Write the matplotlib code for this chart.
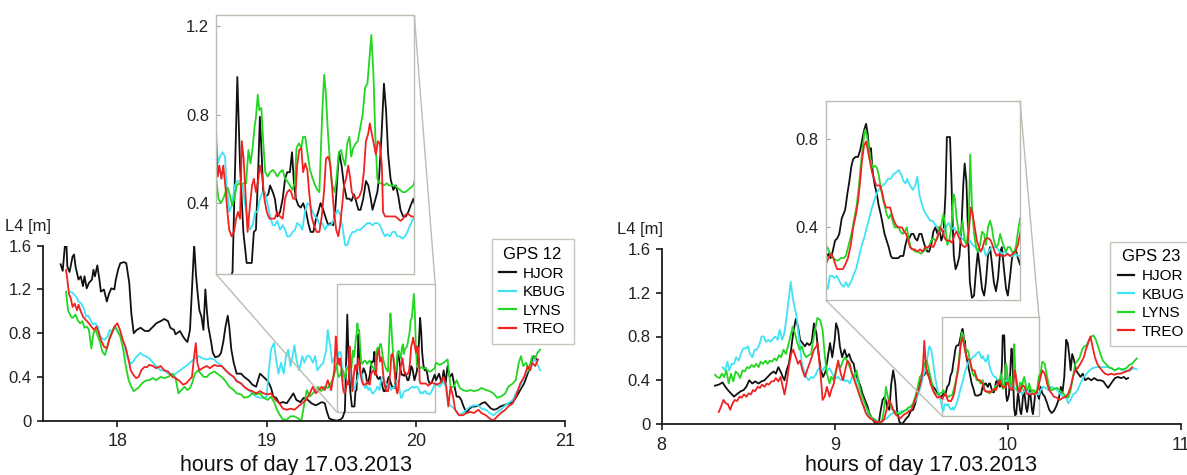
import matplotlib
matplotlib.use("Agg")
import matplotlib.pyplot as plt
from mpl_toolkits.axes_grid1.inset_locator import mark_inset

plt.rcParams['font.family'] = ['Liberation Sans', 'DejaVu Sans']

# ---------------------------------------------------------------- data
stations = ["HJOR", "KBUG", "LYNS", "TREO"]
colors = ["#111111", "#3fe3f5", "#22d622", "#f02222"]

# GPS 12, (hour, L4 [m])
hjor_12 = [
    (17.620,1.43),(17.634,1.37),(17.656,1.71),(17.665,1.41),(17.680,1.36),(17.700,1.50),(17.710,1.52),
    (17.720,1.41),(17.740,1.29),(17.755,1.32),(17.770,1.23),(17.780,1.32),(17.795,1.21),(17.810,1.26),
    (17.830,1.29),(17.840,1.38),(17.850,1.32),(17.866,1.42),(17.880,1.29),(17.890,1.18),(17.910,1.20),
    (17.930,1.09),(17.944,1.16),(17.960,1.21),(17.980,1.20),(17.990,1.29),(18.005,1.38),(18.020,1.44),
    (18.045,1.45),(18.060,1.44),(18.080,1.26),(18.094,0.98),(18.110,0.80),(18.130,0.83),(18.156,0.85),
    (18.185,0.82),(18.210,0.82),(18.240,0.86),(18.260,0.89),(18.290,0.91),(18.315,0.93),(18.340,0.91),
    (18.355,0.85),(18.380,0.83),(18.390,0.79),(18.420,0.82),(18.440,0.77),(18.456,0.74),(18.470,0.72),
    (18.487,0.83),(18.500,1.20),(18.515,1.61),(18.528,1.32),(18.540,1.14),(18.550,1.01),(18.564,0.95),
    (18.577,0.83),(18.590,1.20),(18.600,1.01),(18.610,0.86),(18.630,0.71),(18.640,0.62),(18.656,0.58),
    (18.680,0.59),(18.695,0.62),(18.710,0.72),(18.725,0.86),(18.740,0.96),(18.750,0.86),(18.764,0.65),
    (18.780,0.53),(18.800,0.43),(18.830,0.43),(18.850,0.40),(18.880,0.37),(18.905,0.33),(18.930,0.31),
    (18.956,0.43),(18.980,0.40),(19.010,0.36),(19.030,0.30),(19.046,0.22),(19.064,0.21),(19.085,0.16),
    (19.110,0.17),(19.136,0.16),(19.160,0.21),(19.180,0.25),(19.200,0.19),(19.226,0.17),(19.250,0.21),
    (19.277,0.19),(19.300,0.16),(19.330,0.14),(19.370,0.17),(19.390,0.16),(19.405,0.08),(19.420,0.02),
    (19.440,0.01),(19.470,0.00),(19.495,0.01),(19.510,0.03),(19.525,0.09),(19.541,0.97),(19.550,0.57),
    (19.561,0.27),(19.572,0.13),(19.581,0.13),(19.589,0.13),(19.596,0.27),(19.603,0.28),(19.611,0.57),
    (19.616,0.79),(19.622,0.62),(19.627,0.45),(19.636,0.43),(19.644,0.44),(19.650,0.48),(19.659,0.45),
    (19.666,0.42),(19.674,0.34),(19.683,0.36),(19.692,0.42),(19.700,0.51),(19.707,0.54),(19.716,0.54),
    (19.723,0.63),(19.730,0.48),(19.736,0.42),(19.744,0.39),(19.752,0.38),(19.760,0.40),(19.770,0.36),
    (19.777,0.31),(19.785,0.27),(19.794,0.27),(19.803,0.33),(19.810,0.36),(19.818,0.40),(19.827,0.37),
    (19.836,0.33),(19.844,0.30),(19.852,0.31),(19.860,0.30),(19.868,0.39),(19.875,0.54),(19.880,0.63),
    (19.888,0.57),(19.896,0.48),(19.905,0.42),(19.914,0.42),(19.921,0.41),(19.929,0.44),(19.936,0.41),
    (19.944,0.37),(19.951,0.37),(19.960,0.42),(19.969,0.50),(19.977,0.48),(19.985,0.42),(19.991,0.37),
    (19.999,0.41),(20.007,0.45),(20.013,0.52),(20.021,0.71),(20.029,0.94),(20.036,0.82),(20.043,0.62),
    (20.051,0.51),(20.060,0.46),(20.069,0.48),(20.077,0.43),(20.084,0.37),(20.093,0.34),(20.102,0.34),
    (20.110,0.36),(20.118,0.39),(20.127,0.42),(20.136,0.37),(20.156,0.43),(20.174,0.34),(20.187,0.46),
    (20.200,0.34),(20.213,0.50),(20.228,0.40),(20.244,0.43),(20.260,0.31),(20.274,0.22),(20.290,0.22),
    (20.305,0.19),(20.320,0.13),(20.340,0.07),(20.360,0.11),(20.380,0.13),(20.400,0.13),(20.423,0.14),
    (20.444,0.16),(20.464,0.17),(20.485,0.14),(20.505,0.11),(20.526,0.10),(20.546,0.11),(20.567,0.13),
    (20.587,0.14),(20.610,0.15),(20.630,0.16),(20.650,0.17),(20.675,0.22),(20.700,0.28),(20.726,0.34),
    (20.750,0.43),(20.780,0.56),(20.790,0.59),(20.810,0.56)]

kbug_12 = [
    (17.680,1.18),(17.700,1.17),(17.714,1.15),(17.730,1.12),(17.740,1.09),(17.760,1.07),(17.780,1.01),
    (17.790,0.95),(17.806,0.96),(17.820,0.92),(17.837,0.88),(17.850,0.89),(17.870,0.86),(17.884,0.77),
    (17.900,0.75),(17.915,0.74),(17.933,0.77),(17.950,0.83),(17.967,0.81),(17.980,0.85),(18.000,0.83),
    (18.018,0.78),(18.036,0.74),(18.054,0.65),(18.070,0.57),(18.090,0.52),(18.107,0.54),(18.120,0.57),
    (18.140,0.60),(18.156,0.62),(18.170,0.60),(18.190,0.59),(18.213,0.57),(18.240,0.53),(18.260,0.50),
    (18.290,0.46),(18.315,0.46),(18.340,0.43),(18.370,0.42),(18.390,0.43),(18.420,0.46),(18.440,0.48),
    (18.470,0.51),(18.495,0.54),(18.520,0.57),(18.546,0.59),(18.570,0.57),(18.600,0.56),(18.620,0.57),
    (18.650,0.56),(18.670,0.53),(18.700,0.50),(18.726,0.46),(18.750,0.43),(18.780,0.40),(18.800,0.37),
    (18.830,0.34),(18.850,0.31),(18.880,0.28),(18.905,0.25),(18.930,0.22),(18.956,0.21),(18.980,0.21),
    (19.000,0.22),(19.015,0.46),(19.030,0.65),(19.050,0.71),(19.064,0.56),(19.080,0.43),(19.097,0.53),
    (19.115,0.43),(19.130,0.59),(19.146,0.65),(19.160,0.50),(19.174,0.59),(19.187,0.69),(19.200,0.56),
    (19.218,0.46),(19.240,0.59),(19.254,0.53),(19.270,0.59),(19.290,0.59),(19.310,0.53),(19.326,0.59),
    (19.340,0.46),(19.360,0.50),(19.380,0.53),(19.400,0.65),(19.410,0.83),(19.430,0.65),(19.440,0.53),
    (19.460,0.59),(19.470,0.74),(19.476,0.58),(19.483,0.61),(19.492,0.63),(19.500,0.61),(19.505,0.48),
    (19.514,0.36),(19.522,0.39),(19.533,0.48),(19.541,0.50),(19.550,0.50),(19.559,0.48),(19.566,0.40),
    (19.575,0.33),(19.583,0.28),(19.592,0.30),(19.600,0.36),(19.608,0.36),(19.616,0.42),(19.625,0.45),
    (19.633,0.45),(19.641,0.40),(19.650,0.34),(19.659,0.30),(19.666,0.30),(19.674,0.32),(19.683,0.28),
    (19.692,0.30),(19.700,0.28),(19.707,0.25),(19.716,0.25),(19.725,0.27),(19.733,0.28),(19.740,0.31),
    (19.750,0.30),(19.757,0.28),(19.766,0.36),(19.774,0.40),(19.783,0.39),(19.792,0.36),(19.800,0.34),
    (19.807,0.33),(19.816,0.30),(19.824,0.31),(19.833,0.28),(19.840,0.30),(19.850,0.30),(19.857,0.31),
    (19.866,0.34),(19.874,0.37),(19.883,0.35),(19.890,0.30),(19.900,0.21),(19.907,0.21),(19.916,0.25),
    (19.924,0.27),(19.932,0.27),(19.940,0.28),(19.950,0.28),(19.958,0.29),(19.966,0.30),(19.974,0.31),
    (19.982,0.31),(19.991,0.30),(19.999,0.31),(20.007,0.31),(20.016,0.30),(20.025,0.27),(20.032,0.25),
    (20.040,0.26),(20.049,0.25),(20.057,0.27),(20.066,0.27),(20.073,0.25),(20.082,0.25),(20.090,0.24),
    (20.099,0.25),(20.107,0.27),(20.116,0.30),(20.127,0.33),(20.136,0.34),(20.160,0.31),(20.187,0.36),
    (20.200,0.31),(20.218,0.16),(20.240,0.13),(20.264,0.10),(20.290,0.05),(20.315,0.07),(20.340,0.10),
    (20.367,0.13),(20.390,0.14),(20.420,0.14),(20.440,0.11),(20.470,0.10),(20.495,0.07),(20.520,0.05),
    (20.546,0.08),(20.570,0.10),(20.600,0.14),(20.620,0.16),(20.650,0.19),(20.670,0.25),(20.700,0.31),
    (20.726,0.40),(20.750,0.46),(20.780,0.53),(20.800,0.56),(20.834,0.46)]

lyns_12 = [
    (17.656,1.18),(17.670,1.01),(17.690,0.95),(17.700,0.94),(17.720,0.97),(17.734,0.92),(17.750,0.89),
    (17.766,0.91),(17.780,0.85),(17.797,0.86),(17.810,0.83),(17.826,0.66),(17.840,0.80),(17.855,0.83),
    (17.870,0.77),(17.886,0.71),(17.900,0.63),(17.917,0.60),(17.933,0.68),(17.950,0.77),(17.970,0.83),
    (17.987,0.86),(18.004,0.81),(18.020,0.77),(18.040,0.65),(18.058,0.49),(18.076,0.37),(18.094,0.31),
    (18.110,0.27),(18.130,0.29),(18.147,0.31),(18.165,0.34),(18.183,0.36),(18.200,0.37),(18.213,0.37),
    (18.240,0.39),(18.260,0.37),(18.290,0.40),(18.315,0.39),(18.340,0.40),(18.370,0.43),(18.390,0.39),
    (18.410,0.25),(18.430,0.28),(18.450,0.31),(18.470,0.28),(18.487,0.30),(18.500,0.34),(18.520,0.43),
    (18.540,0.46),(18.560,0.43),(18.580,0.40),(18.600,0.40),(18.620,0.43),(18.650,0.45),(18.670,0.43),
    (18.700,0.40),(18.726,0.36),(18.750,0.31),(18.780,0.28),(18.800,0.25),(18.830,0.24),(18.850,0.21),
    (18.880,0.22),(18.905,0.25),(18.930,0.24),(18.956,0.25),(18.980,0.21),(19.008,0.19),(19.030,0.22),
    (19.054,0.16),(19.070,0.10),(19.090,0.05),(19.110,0.01),(19.136,0.01),(19.160,0.04),(19.187,0.04),
    (19.213,0.02),(19.233,0.00),(19.250,0.13),(19.270,0.28),(19.290,0.22),(19.310,0.25),(19.330,0.28),
    (19.346,0.31),(19.367,0.27),(19.387,0.31),(19.410,0.30),(19.430,0.34),(19.450,0.40),(19.470,0.52),
    (19.478,0.42),(19.486,0.40),(19.494,0.42),(19.502,0.45),(19.509,0.47),(19.517,0.43),(19.524,0.39),
    (19.531,0.42),(19.539,0.48),(19.547,0.49),(19.554,0.48),(19.561,0.49),(19.570,0.49),(19.578,0.64),
    (19.585,0.58),(19.592,0.65),(19.598,0.74),(19.603,0.79),(19.609,0.89),(19.614,0.82),(19.621,0.83),
    (19.627,0.68),(19.634,0.54),(19.642,0.52),(19.650,0.54),(19.659,0.55),(19.666,0.54),(19.674,0.52),
    (19.683,0.54),(19.692,0.55),(19.700,0.51),(19.707,0.50),(19.716,0.48),(19.724,0.46),(19.732,0.49),
    (19.738,0.65),(19.746,0.67),(19.754,0.65),(19.760,0.70),(19.767,0.70),(19.774,0.63),(19.783,0.55),
    (19.792,0.51),(19.800,0.48),(19.807,0.46),(19.814,0.45),(19.818,0.60),(19.824,0.82),(19.830,0.98),
    (19.835,0.91),(19.842,0.73),(19.850,0.57),(19.857,0.48),(19.865,0.45),(19.871,0.51),(19.879,0.63),
    (19.886,0.64),(19.893,0.60),(19.900,0.57),(19.907,0.67),(19.914,0.70),(19.920,0.61),(19.927,0.65),
    (19.935,0.67),(19.942,0.68),(19.950,0.74),(19.958,0.80),(19.966,0.92),(19.974,0.94),(19.980,1.04),
    (19.987,1.16),(19.994,0.98),(20.000,0.71),(20.007,0.51),(20.013,0.49),(20.021,0.49),(20.029,0.48),
    (20.038,0.49),(20.046,0.48),(20.055,0.48),(20.066,0.48),(20.073,0.47),(20.082,0.46),(20.091,0.45),
    (20.100,0.45),(20.109,0.46),(20.118,0.47),(20.127,0.48),(20.136,0.53),(20.160,0.51),(20.187,0.53),
    (20.213,0.56),(20.233,0.31),(20.254,0.31),(20.274,0.37),(20.295,0.30),(20.315,0.28),(20.340,0.27),
    (20.367,0.28),(20.390,0.27),(20.420,0.28),(20.440,0.30),(20.470,0.28),(20.495,0.27),(20.520,0.25),
    (20.546,0.21),(20.570,0.22),(20.600,0.25),(20.620,0.31),(20.650,0.34),(20.670,0.37),(20.690,0.53),
    (20.705,0.59),(20.720,0.50),(20.740,0.53),(20.756,0.46),(20.780,0.59),(20.800,0.57),(20.815,0.62),
    (20.834,0.65)]

treo_12 = [
    (17.656,1.38),(17.665,1.29),(17.676,1.16),(17.688,1.12),(17.700,1.04),(17.714,1.07),(17.730,1.01),
    (17.740,1.06),(17.755,1.00),(17.770,0.95),(17.790,0.92),(17.810,0.89),(17.826,0.86),(17.844,0.83),
    (17.860,0.86),(17.877,0.80),(17.890,0.74),(17.910,0.68),(17.930,0.66),(17.946,0.74),(17.964,0.80),
    (17.980,0.86),(18.000,0.89),(18.018,0.83),(18.036,0.74),(18.054,0.68),(18.070,0.59),(18.090,0.46),
    (18.107,0.42),(18.125,0.39),(18.143,0.40),(18.160,0.46),(18.180,0.49),(18.200,0.49),(18.213,0.51),
    (18.240,0.50),(18.260,0.48),(18.290,0.50),(18.315,0.46),(18.340,0.45),(18.370,0.40),(18.390,0.39),
    (18.420,0.36),(18.440,0.33),(18.460,0.34),(18.480,0.37),(18.500,0.40),(18.515,0.59),(18.526,0.71),
    (18.536,0.53),(18.550,0.46),(18.570,0.48),(18.600,0.50),(18.620,0.48),(18.650,0.51),(18.670,0.50),
    (18.700,0.50),(18.726,0.46),(18.750,0.43),(18.780,0.40),(18.800,0.36),(18.830,0.34),(18.850,0.31),
    (18.880,0.28),(18.905,0.27),(18.930,0.25),(18.956,0.27),(18.980,0.25),(19.008,0.24),(19.030,0.25),
    (19.060,0.19),(19.085,0.16),(19.110,0.11),(19.136,0.10),(19.160,0.11),(19.187,0.10),(19.213,0.13),
    (19.240,0.16),(19.264,0.19),(19.290,0.25),(19.310,0.31),(19.330,0.25),(19.350,0.28),(19.370,0.31),
    (19.390,0.28),(19.410,0.37),(19.433,0.28),(19.454,0.46),(19.464,0.77),(19.470,0.68),(19.476,0.52),
    (19.481,0.57),(19.488,0.51),(19.494,0.57),(19.501,0.48),(19.508,0.36),(19.514,0.28),(19.522,0.25),
    (19.530,0.27),(19.537,0.33),(19.543,0.36),(19.550,0.33),(19.556,0.68),(19.562,0.60),(19.569,0.42),
    (19.575,0.27),(19.583,0.39),(19.590,0.48),(19.596,0.51),(19.603,0.45),(19.611,0.51),(19.616,0.57),
    (19.624,0.52),(19.631,0.42),(19.639,0.36),(19.648,0.33),(19.656,0.33),(19.665,0.33),(19.674,0.36),
    (19.683,0.34),(19.692,0.33),(19.700,0.42),(19.707,0.45),(19.714,0.46),(19.720,0.45),(19.727,0.42),
    (19.734,0.42),(19.740,0.57),(19.747,0.64),(19.754,0.65),(19.760,0.54),(19.767,0.58),(19.774,0.55),
    (19.780,0.45),(19.788,0.34),(19.796,0.30),(19.805,0.27),(19.814,0.27),(19.822,0.34),(19.830,0.46),
    (19.836,0.60),(19.843,0.61),(19.850,0.58),(19.856,0.48),(19.863,0.36),(19.870,0.28),(19.877,0.25),
    (19.883,0.30),(19.890,0.39),(19.896,0.48),(19.903,0.51),(19.910,0.57),(19.916,0.52),(19.922,0.45),
    (19.929,0.43),(19.938,0.42),(19.947,0.43),(19.955,0.46),(19.962,0.54),(19.969,0.68),(19.976,0.71),
    (19.982,0.76),(19.989,0.71),(19.995,0.67),(20.002,0.62),(20.009,0.68),(20.015,0.67),(20.022,0.57),
    (20.026,0.36),(20.033,0.34),(20.040,0.34),(20.049,0.34),(20.058,0.34),(20.067,0.34),(20.076,0.33),
    (20.084,0.32),(20.093,0.33),(20.102,0.35),(20.111,0.35),(20.120,0.34),(20.127,0.34),(20.136,0.33),
    (20.160,0.34),(20.187,0.40),(20.205,0.31),(20.218,0.13),(20.233,0.31),(20.250,0.22),(20.264,0.10),
    (20.290,0.05),(20.315,0.05),(20.340,0.07),(20.367,0.08),(20.390,0.07),(20.420,0.10),(20.440,0.07),
    (20.470,0.05),(20.495,0.02),(20.520,0.00),(20.546,0.04),(20.570,0.07),(20.600,0.10),(20.620,0.13),
    (20.650,0.16),(20.670,0.22),(20.700,0.34),(20.726,0.40),(20.750,0.50),(20.767,0.46),(20.780,0.53),
    (20.800,0.50),(20.820,0.56)]

# GPS 23, (hour, L4 [m])
hjor_23 = [
    (8.308,0.35),(8.330,0.36),(8.352,0.38),(8.368,0.34),(8.383,0.31),(8.400,0.28),(8.418,0.25),
    (8.440,0.28),(8.458,0.30),(8.473,0.31),(8.489,0.34),(8.506,0.40),(8.524,0.37),(8.540,0.39),
    (8.560,0.37),(8.577,0.39),(8.594,0.40),(8.612,0.43),(8.630,0.46),(8.647,0.48),(8.660,0.46),
    (8.674,0.52),(8.687,0.48),(8.700,0.43),(8.710,0.40),(8.722,0.49),(8.735,0.55),(8.748,0.68),
    (8.760,0.83),(8.775,0.96),(8.788,0.89),(8.800,0.77),(8.814,0.74),(8.828,0.71),(8.840,0.74),
    (8.854,0.72),(8.867,0.75),(8.880,0.92),(8.894,0.83),(8.907,0.64),(8.920,0.49),(8.933,0.43),
    (8.947,0.48),(8.960,0.61),(8.973,0.74),(8.986,0.61),(9.000,0.77),(9.008,0.92),(9.020,0.86),
    (9.030,0.71),(9.043,0.61),(9.057,0.68),(9.070,0.61),(9.083,0.64),(9.096,0.58),(9.110,0.55),
    (9.120,0.46),(9.136,0.40),(9.150,0.34),(9.160,0.28),(9.175,0.22),(9.190,0.16),(9.200,0.10),
    (9.215,0.05),(9.228,0.02),(9.240,0.00),(9.255,0.01),(9.263,0.10),(9.277,0.22),(9.290,0.25),
    (9.303,0.16),(9.316,0.13),(9.327,0.37),(9.338,0.49),(9.350,0.37),(9.360,0.13),(9.374,0.02),
    (9.387,0.00),(9.400,0.02),(9.413,0.05),(9.426,0.07),(9.440,0.12),(9.453,0.13),(9.466,0.19),
    (9.480,0.28),(9.492,0.37),(9.506,0.43),(9.519,0.45),(9.532,0.49),(9.545,0.43),(9.558,0.37),
    (9.570,0.34),(9.585,0.31),(9.598,0.27),(9.611,0.25),(9.623,0.26),(9.631,0.28),(9.637,0.26),
    (9.643,0.29),(9.650,0.34),(9.656,0.35),(9.662,0.37),(9.669,0.44),(9.674,0.46),(9.679,0.48),
    (9.685,0.55),(9.691,0.61),(9.697,0.68),(9.702,0.71),(9.709,0.72),(9.716,0.72),(9.722,0.75),
    (9.727,0.79),(9.733,0.84),(9.739,0.87),(9.744,0.82),(9.748,0.74),(9.753,0.76),(9.758,0.65),
    (9.764,0.59),(9.770,0.55),(9.775,0.50),(9.781,0.46),(9.787,0.41),(9.792,0.37),(9.798,0.34),
    (9.804,0.31),(9.810,0.27),(9.815,0.26),(9.823,0.26),(9.831,0.26),(9.838,0.27),(9.846,0.27),
    (9.852,0.32),(9.857,0.35),(9.863,0.35),(9.869,0.37),(9.875,0.37),(9.880,0.35),(9.886,0.34),
    (9.892,0.37),(9.898,0.37),(9.903,0.34),(9.909,0.31),(9.915,0.29),(9.920,0.29),(9.926,0.32),
    (9.932,0.38),(9.938,0.40),(9.944,0.37),(9.949,0.40),(9.955,0.34),(9.961,0.37),(9.967,0.55),
    (9.971,0.81),(9.976,0.81),(9.980,0.81),(9.984,0.62),(9.988,0.40),(9.991,0.27),(9.996,0.21),
    (10.001,0.23),(10.007,0.27),(10.013,0.40),(10.018,0.59),(10.022,0.69),(10.027,0.61),(10.033,0.32),
    (10.037,0.15),(10.043,0.08),(10.049,0.09),(10.055,0.21),(10.060,0.29),(10.066,0.21),(10.072,0.12),
    (10.078,0.09),(10.083,0.15),(10.089,0.27),(10.095,0.31),(10.100,0.24),(10.106,0.15),(10.112,0.11),
    (10.118,0.17),(10.124,0.29),(10.129,0.31),(10.135,0.21),(10.141,0.12),(10.146,0.09),(10.152,0.17),
    (10.158,0.26),(10.164,0.29),(10.170,0.29),(10.175,0.26),(10.181,0.23),(10.190,0.34),(10.200,0.28),
    (10.214,0.25),(10.228,0.19),(10.240,0.13),(10.254,0.10),(10.267,0.12),(10.280,0.16),(10.294,0.22),
    (10.307,0.34),(10.316,0.28),(10.327,0.43),(10.338,0.77),(10.347,0.74),(10.355,0.64),(10.364,0.49),
    (10.373,0.64),(10.384,0.58),(10.395,0.49),(10.408,0.46),(10.421,0.43),(10.434,0.46),(10.448,0.40),
    (10.465,0.42),(10.483,0.40),(10.500,0.42),(10.518,0.40),(10.536,0.40),(10.553,0.39),(10.566,0.36),
    (10.580,0.33),(10.593,0.36),(10.606,0.39),(10.620,0.42),(10.637,0.43),(10.655,0.42),(10.672,0.43),
    (10.685,0.41),(10.696,0.42)]

kbug_23 = [
    (8.352,0.52),(8.365,0.49),(8.380,0.57),(8.390,0.49),(8.405,0.55),(8.418,0.55),(8.430,0.61),
    (8.445,0.58),(8.458,0.64),(8.470,0.69),(8.484,0.69),(8.500,0.71),(8.510,0.64),(8.524,0.61),
    (8.537,0.68),(8.550,0.68),(8.564,0.72),(8.577,0.80),(8.590,0.80),(8.603,0.75),(8.616,0.77),
    (8.630,0.75),(8.643,0.78),(8.656,0.80),(8.670,0.77),(8.682,0.86),(8.696,0.77),(8.709,0.83),
    (8.722,0.98),(8.735,1.16),(8.746,1.30),(8.757,1.16),(8.768,1.07),(8.780,0.98),(8.788,0.86),
    (8.800,0.71),(8.810,0.55),(8.823,0.49),(8.836,0.43),(8.850,0.40),(8.863,0.43),(8.876,0.42),
    (8.890,0.45),(8.900,0.49),(8.916,0.52),(8.930,0.49),(8.942,0.52),(8.955,0.49),(8.970,0.51),
    (8.980,0.48),(8.995,0.43),(9.008,0.42),(9.020,0.43),(9.035,0.40),(9.048,0.42),(9.060,0.39),
    (9.074,0.40),(9.087,0.37),(9.100,0.43),(9.114,0.46),(9.127,0.37),(9.140,0.28),(9.153,0.22),
    (9.167,0.16),(9.180,0.12),(9.193,0.09),(9.206,0.07),(9.220,0.05),(9.233,0.04),(9.246,0.02),
    (9.260,0.02),(9.272,0.02),(9.285,0.04),(9.300,0.05),(9.312,0.07),(9.325,0.09),(9.338,0.10),
    (9.350,0.11),(9.365,0.10),(9.378,0.11),(9.390,0.12),(9.404,0.12),(9.418,0.13),(9.430,0.15),
    (9.444,0.16),(9.457,0.19),(9.470,0.22),(9.484,0.28),(9.497,0.34),(9.510,0.43),(9.523,0.49),
    (9.536,0.61),(9.547,0.71),(9.558,0.68),(9.570,0.55),(9.580,0.43),(9.594,0.31),(9.607,0.25),
    (9.623,0.14),(9.629,0.12),(9.635,0.18),(9.642,0.18),(9.649,0.17),(9.655,0.18),(9.661,0.16),
    (9.668,0.14),(9.675,0.13),(9.681,0.15),(9.688,0.13),(9.695,0.15),(9.702,0.18),(9.710,0.21),
    (9.718,0.26),(9.725,0.31),(9.733,0.35),(9.741,0.40),(9.748,0.44),(9.756,0.49),(9.764,0.53),
    (9.771,0.56),(9.779,0.58),(9.787,0.59),(9.794,0.60),(9.802,0.62),(9.810,0.62),(9.817,0.64),
    (9.825,0.65),(9.833,0.66),(9.840,0.64),(9.846,0.61),(9.852,0.60),(9.857,0.62),(9.865,0.59),
    (9.873,0.57),(9.880,0.59),(9.886,0.63),(9.892,0.55),(9.900,0.50),(9.907,0.47),(9.915,0.45),
    (9.923,0.43),(9.930,0.43),(9.938,0.41),(9.945,0.40),(9.953,0.38),(9.961,0.39),(9.968,0.40),
    (9.976,0.42),(9.984,0.39),(9.991,0.40),(9.999,0.38),(10.007,0.37),(10.014,0.35),(10.022,0.34),
    (10.030,0.33),(10.037,0.34),(10.045,0.32),(10.053,0.31),(10.060,0.29),(10.068,0.29),(10.076,0.31),
    (10.083,0.27),(10.091,0.29),(10.099,0.31),(10.106,0.31),(10.114,0.31),(10.122,0.29),(10.129,0.28),
    (10.137,0.29),(10.145,0.28),(10.152,0.27),(10.160,0.27),(10.168,0.28),(10.175,0.27),(10.181,0.27),
    (10.190,0.31),(10.206,0.34),(10.220,0.33),(10.234,0.31),(10.250,0.34),(10.267,0.33),(10.285,0.31),
    (10.300,0.28),(10.320,0.25),(10.338,0.24),(10.350,0.19),(10.364,0.22),(10.377,0.27),(10.390,0.28),
    (10.404,0.31),(10.420,0.37),(10.440,0.43),(10.456,0.46),(10.474,0.49),(10.490,0.51),(10.510,0.52),
    (10.530,0.52),(10.553,0.52),(10.575,0.52),(10.600,0.51),(10.620,0.49),(10.640,0.51),(10.663,0.49),
    (10.685,0.49),(10.707,0.49),(10.730,0.51),(10.745,0.50)]

lyns_23 = [
    (8.308,0.45),(8.320,0.43),(8.335,0.42),(8.348,0.46),(8.360,0.43),(8.374,0.49),(8.387,0.37),
    (8.400,0.46),(8.414,0.39),(8.427,0.48),(8.440,0.46),(8.453,0.42),(8.467,0.49),(8.480,0.48),
    (8.493,0.52),(8.506,0.51),(8.520,0.54),(8.533,0.52),(8.546,0.55),(8.560,0.52),(8.572,0.57),
    (8.586,0.55),(8.600,0.58),(8.612,0.55),(8.625,0.58),(8.638,0.57),(8.652,0.60),(8.665,0.58),
    (8.678,0.63),(8.690,0.61),(8.704,0.68),(8.718,0.64),(8.730,0.71),(8.744,0.80),(8.757,0.89),
    (8.770,0.83),(8.784,0.74),(8.797,0.68),(8.810,0.71),(8.823,0.64),(8.836,0.61),(8.850,0.63),
    (8.863,0.64),(8.876,0.77),(8.890,0.89),(8.900,0.97),(8.916,0.95),(8.930,0.86),(8.942,0.64),
    (8.955,0.46),(8.970,0.37),(8.980,0.43),(8.995,0.40),(9.008,0.49),(9.020,0.55),(9.035,0.52),
    (9.048,0.58),(9.060,0.61),(9.074,0.57),(9.087,0.52),(9.100,0.46),(9.114,0.43),(9.127,0.49),
    (9.140,0.37),(9.153,0.28),(9.167,0.22),(9.180,0.16),(9.193,0.12),(9.206,0.07),(9.220,0.05),
    (9.233,0.04),(9.246,0.02),(9.260,0.02),(9.272,0.02),(9.285,0.13),(9.296,0.34),(9.307,0.25),
    (9.320,0.19),(9.334,0.13),(9.347,0.12),(9.360,0.10),(9.374,0.09),(9.387,0.10),(9.400,0.12),
    (9.413,0.13),(9.426,0.15),(9.440,0.16),(9.453,0.19),(9.466,0.25),(9.480,0.34),(9.492,0.43),
    (9.506,0.46),(9.519,0.55),(9.532,0.58),(9.545,0.49),(9.558,0.40),(9.570,0.31),(9.585,0.28),
    (9.598,0.27),(9.611,0.28),(9.623,0.29),(9.628,0.31),(9.633,0.29),(9.639,0.27),(9.646,0.26),
    (9.653,0.25),(9.659,0.25),(9.666,0.26),(9.674,0.26),(9.681,0.27),(9.689,0.32),(9.697,0.37),
    (9.704,0.43),(9.712,0.50),(9.718,0.58),(9.723,0.67),(9.729,0.76),(9.735,0.84),(9.741,0.82),
    (9.746,0.77),(9.752,0.71),(9.758,0.67),(9.764,0.68),(9.770,0.67),(9.775,0.64),(9.781,0.58),
    (9.787,0.53),(9.792,0.50),(9.798,0.46),(9.804,0.44),(9.810,0.46),(9.815,0.43),(9.821,0.40),
    (9.827,0.40),(9.833,0.40),(9.838,0.38),(9.844,0.37),(9.850,0.38),(9.856,0.40),(9.861,0.35),
    (9.867,0.31),(9.873,0.30),(9.880,0.29),(9.888,0.29),(9.896,0.28),(9.903,0.29),(9.911,0.30),
    (9.919,0.31),(9.926,0.34),(9.932,0.35),(9.938,0.34),(9.944,0.35),(9.949,0.40),(9.955,0.41),
    (9.961,0.46),(9.967,0.40),(9.972,0.32),(9.978,0.34),(9.984,0.40),(9.990,0.55),(9.994,0.53),
    (9.999,0.44),(10.005,0.38),(10.011,0.37),(10.016,0.43),(10.022,0.34),(10.028,0.32),(10.034,0.43),
    (10.038,0.73),(10.043,0.50),(10.049,0.37),(10.055,0.31),(10.060,0.29),(10.066,0.32),(10.072,0.38),
    (10.078,0.37),(10.083,0.32),(10.089,0.40),(10.095,0.43),(10.100,0.40),(10.106,0.34),(10.112,0.31),
    (10.118,0.32),(10.124,0.37),(10.129,0.34),(10.135,0.31),(10.141,0.29),(10.146,0.31),(10.152,0.31),
    (10.158,0.29),(10.164,0.28),(10.170,0.32),(10.175,0.38),(10.181,0.44),(10.190,0.46),(10.200,0.57),
    (10.214,0.55),(10.228,0.43),(10.240,0.34),(10.254,0.31),(10.267,0.32),(10.285,0.33),(10.300,0.31),
    (10.320,0.28),(10.338,0.25),(10.350,0.24),(10.364,0.31),(10.377,0.43),(10.390,0.55),(10.404,0.58),
    (10.417,0.61),(10.430,0.68),(10.443,0.71),(10.456,0.72),(10.470,0.77),(10.483,0.80),(10.496,0.81),
    (10.510,0.77),(10.522,0.71),(10.536,0.64),(10.550,0.58),(10.566,0.55),(10.584,0.52),(10.600,0.51),
    (10.620,0.49),(10.640,0.51),(10.663,0.50),(10.685,0.51),(10.703,0.54),(10.720,0.55),(10.734,0.58),
    (10.747,0.60)]

treo_23 = [
    (8.330,0.11),(8.343,0.16),(8.357,0.22),(8.370,0.19),(8.383,0.18),(8.396,0.13),(8.410,0.19),
    (8.423,0.22),(8.436,0.21),(8.450,0.25),(8.462,0.24),(8.475,0.27),(8.490,0.25),(8.502,0.28),
    (8.515,0.27),(8.528,0.31),(8.540,0.30),(8.555,0.34),(8.568,0.33),(8.580,0.36),(8.594,0.34),
    (8.607,0.37),(8.620,0.36),(8.634,0.39),(8.647,0.39),(8.660,0.42),(8.674,0.39),(8.687,0.43),
    (8.700,0.34),(8.710,0.27),(8.722,0.37),(8.735,0.52),(8.748,0.64),(8.760,0.68),(8.775,0.61),
    (8.788,0.55),(8.800,0.58),(8.814,0.49),(8.828,0.43),(8.840,0.49),(8.854,0.55),(8.867,0.61),
    (8.880,0.68),(8.894,0.71),(8.900,0.74),(8.910,0.58),(8.920,0.43),(8.930,0.22),(8.942,0.25),
    (8.955,0.34),(8.970,0.25),(8.980,0.31),(8.995,0.37),(9.008,0.49),(9.020,0.58),(9.035,0.46),
    (9.048,0.40),(9.060,0.49),(9.074,0.58),(9.087,0.55),(9.100,0.46),(9.114,0.40),(9.127,0.34),
    (9.140,0.28),(9.153,0.22),(9.167,0.16),(9.180,0.10),(9.193,0.07),(9.206,0.05),(9.220,0.04),
    (9.233,0.02),(9.246,0.02),(9.260,0.02),(9.272,0.02),(9.285,0.04),(9.300,0.13),(9.312,0.22),
    (9.325,0.19),(9.338,0.13),(9.350,0.09),(9.365,0.07),(9.378,0.05),(9.390,0.07),(9.404,0.09),
    (9.418,0.10),(9.430,0.12),(9.444,0.13),(9.457,0.19),(9.470,0.25),(9.485,0.31),(9.500,0.40),
    (9.510,0.52),(9.518,0.76),(9.526,0.55),(9.535,0.46),(9.545,0.43),(9.554,0.37),(9.567,0.31),
    (9.580,0.27),(9.594,0.24),(9.607,0.25),(9.623,0.23),(9.628,0.25),(9.634,0.27),(9.639,0.28),
    (9.645,0.26),(9.651,0.23),(9.656,0.21),(9.664,0.21),(9.672,0.21),(9.679,0.23),(9.687,0.26),
    (9.695,0.32),(9.702,0.40),(9.710,0.46),(9.716,0.52),(9.722,0.61),(9.727,0.70),(9.733,0.77),
    (9.739,0.79),(9.745,0.74),(9.750,0.70),(9.756,0.65),(9.762,0.62),(9.768,0.59),(9.773,0.59),
    (9.779,0.59),(9.785,0.56),(9.790,0.52),(9.796,0.49),(9.802,0.49),(9.808,0.49),(9.813,0.46),
    (9.819,0.43),(9.825,0.41),(9.831,0.40),(9.836,0.40),(9.842,0.40),(9.848,0.38),(9.854,0.37),
    (9.860,0.34),(9.865,0.31),(9.871,0.30),(9.879,0.30),(9.886,0.29),(9.894,0.30),(9.901,0.29),
    (9.909,0.31),(9.917,0.31),(9.924,0.32),(9.932,0.31),(9.940,0.34),(9.947,0.37),(9.953,0.40),
    (9.959,0.38),(9.965,0.35),(9.970,0.34),(9.978,0.34),(9.986,0.33),(9.994,0.37),(9.999,0.38),
    (10.007,0.35),(10.014,0.32),(10.022,0.31),(10.030,0.32),(10.035,0.40),(10.040,0.49),(10.045,0.46),
    (10.051,0.40),(10.057,0.34),(10.063,0.31),(10.068,0.29),(10.074,0.31),(10.079,0.34),(10.085,0.35),
    (10.091,0.35),(10.097,0.34),(10.102,0.32),(10.108,0.29),(10.114,0.27),(10.122,0.28),(10.129,0.27),
    (10.137,0.27),(10.145,0.28),(10.152,0.27),(10.160,0.28),(10.168,0.29),(10.175,0.32),(10.181,0.37),
    (10.190,0.43),(10.200,0.49),(10.214,0.46),(10.228,0.37),(10.240,0.31),(10.254,0.28),(10.267,0.25),
    (10.285,0.24),(10.300,0.22),(10.320,0.24),(10.338,0.25),(10.350,0.28),(10.364,0.34),(10.377,0.43),
    (10.390,0.49),(10.404,0.51),(10.420,0.55),(10.440,0.61),(10.452,0.68),(10.465,0.74),(10.478,0.80),
    (10.490,0.71),(10.504,0.61),(10.518,0.55),(10.530,0.52),(10.545,0.49),(10.562,0.46),(10.580,0.45),
    (10.600,0.46),(10.615,0.45),(10.633,0.46),(10.650,0.46),(10.667,0.47),(10.685,0.48),(10.703,0.49),
    (10.720,0.52)]

y_ticks = [0, 0.4, 0.8, 1.2, 1.6]
y_ticklabels = ["0", "0.4", "0.8", "1.2", "1.6"]
x_label = "hours of day 17.03.2013"
y_label = "L4 [m]"

# ---------------------------------------------------------------- layout
W, H = 1187, 475
fig = plt.figure(figsize=(W / 100, H / 100), dpi=100)
GRID = "#b9beb1"


def add_px_axes(x0, y0, x1, y1):
    """Axes from a pixel box measured from the top-left corner."""
    return fig.add_axes([x0 / W, 1 - y1 / H, (x1 - x0) / W, (y1 - y0) / H])


def draw_series(ax, series, lw):
    for (name, col, pts) in zip(stations, colors, series):
        t, v = zip(*pts)
        ax.plot(t, v, color=col, lw=lw, label=name, solid_joinstyle="round")


def panel(main_box, inset_box, xlim, xticks, inset_xlim, inset_ylim, inset_yticks,
          series, title, legend_xy, ylabel_xy, xlabel_x):
    ax = add_px_axes(*main_box)
    draw_series(ax, series, 1.3)
    ax.set_xlim(*xlim)
    ax.set_ylim(0, 1.6)
    ax.set_xticks(xticks)
    ax.set_yticks(y_ticks)
    ax.set_yticklabels(y_ticklabels)
    for s in ("top", "right"):
        ax.spines[s].set_visible(False)
    for s in ("left", "bottom"):
        ax.spines[s].set_linewidth(1.3)
        ax.spines[s].set_color("#1a1a1a")
    ax.tick_params(direction="out", length=4, width=1.2, color="#1a1a1a", labelcolor="#222222")
    ax.tick_params(axis="y", labelsize=12, pad=4)
    ax.tick_params(axis="x", labelsize=13, pad=5)

    leg = ax.legend(loc="upper left", bbox_to_anchor=(legend_xy[0] / W, 1 - legend_xy[1] / H),
                    bbox_transform=fig.transFigure, title=title, fontsize=11,
                    title_fontsize=12, frameon=True, fancybox=False, framealpha=1,
                    edgecolor="#c3c8bb", borderpad=0.5, handlelength=1.1,
                    handletextpad=0.45, labelspacing=0.3, borderaxespad=0)
    leg.get_frame().set_linewidth(1.0)
    for h in leg.get_lines():
        h.set_linewidth(1.6)

    fig.text(ylabel_xy[0] / W, 1 - ylabel_xy[1] / H, y_label, fontsize=12,
             ha="left", va="center", color="#222222")
    fig.text(xlabel_x / W, 1 - 465 / H, x_label, fontsize=15.5,
             ha="center", va="center", color="#111111")

    axi = add_px_axes(*inset_box)
    draw_series(axi, series, 1.3)
    axi.set_xlim(*inset_xlim)
    axi.set_ylim(*inset_ylim)
    axi.set_xticks([])
    axi.set_yticks(inset_yticks)
    axi.set_yticklabels([f"{v:.1f}" for v in inset_yticks])
    axi.tick_params(axis="y", direction="in", length=3, width=0.8, color="#a0a596",
                    labelsize=12, labelcolor="#222222", pad=5)
    for s in axi.spines.values():
        s.set_color(GRID)
        s.set_linewidth(1.0)
    mark_inset(ax, axi, loc1=1, loc2=3, fc="none", ec=GRID, lw=1.0)
    return ax, axi


panel(main_box=(42.7, 245.7, 565, 420.7), inset_box=(216, 15, 414.3, 274),
      xlim=(17.5, 21), xticks=[18, 19, 20, 21],
      inset_xlim=(19.47, 20.13), inset_ylim=(0.08, 1.25), inset_yticks=[0.4, 0.8, 1.2],
      series=[hjor_12, kbug_12, lyns_12, treo_12], title="GPS 12",
      legend_xy=(491.7, 239.3), ylabel_xy=(5, 226), xlabel_x=296)

panel(main_box=(661.7, 249, 1180.7, 424), inset_box=(825.7, 100.7, 1020, 300),
      xlim=(8, 11), xticks=[8, 9, 10, 11],
      inset_xlim=(9.623, 10.181), inset_ylim=(0.07, 0.975), inset_yticks=[0.4, 0.8],
      series=[hjor_23, kbug_23, lyns_23, treo_23], title="GPS 23",
      legend_xy=(1110, 241.7), ylabel_xy=(617, 229), xlabel_x=921)

fig.savefig("out.png", dpi=100)
